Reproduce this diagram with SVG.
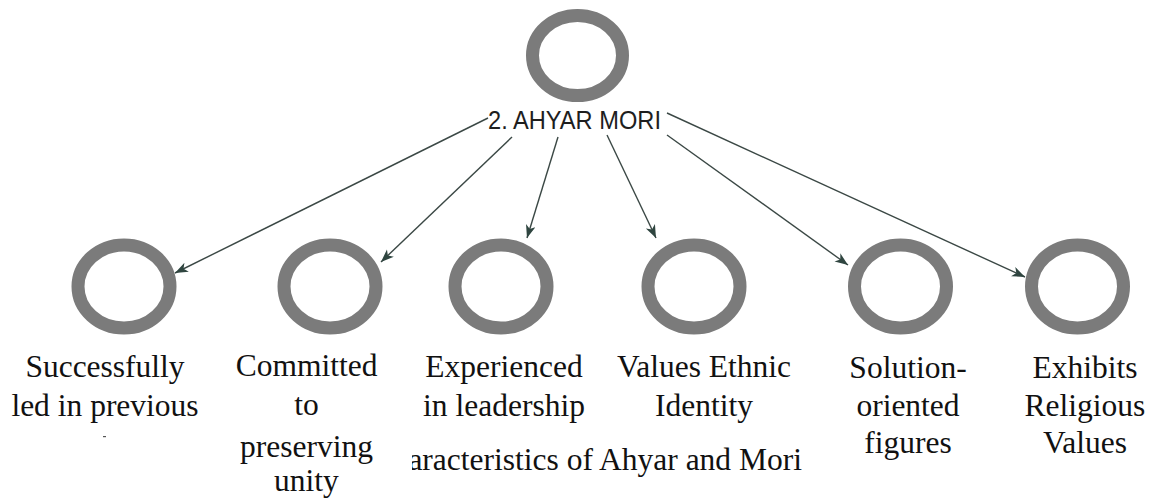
<svg xmlns="http://www.w3.org/2000/svg" width="1163" height="498" viewBox="0 0 1163 498">
  <style>
    .ring { fill: none; stroke: #7b7b7b; stroke-width: 13; }
    .edge { fill: none; stroke: #3b4845; stroke-width: 1.4; marker-end: url(#arrow); }
    .root-label { font-family: "Liberation Sans", Arial, sans-serif; font-size: 25px; fill: #1e1e1e; }
    .label { font-family: "Liberation Serif", "Times New Roman", serif; font-size: 31.5px; fill: #111; text-anchor: middle; }
  </style>
  <defs>
    <marker id="arrow" markerUnits="userSpaceOnUse" markerWidth="14" markerHeight="12" refX="13" refY="5" orient="auto">
      <path d="M0,0 L13,5 L0,10 L3.5,5 Z" fill="#2f4540"/>
    </marker>
    <clipPath id="captionClip">
      <rect x="412" y="430" width="420" height="60"/>
    </clipPath>
  </defs>

  <rect width="1163" height="498" fill="#ffffff"/>

  <!-- connectors from the root label to each trait -->
  <g id="connectors">
    <line class="edge" x1="488" y1="118" x2="175" y2="273"/>
    <line class="edge" x1="512" y1="137" x2="381" y2="262"/>
    <line class="edge" x1="558" y1="137" x2="527" y2="238"/>
    <line class="edge" x1="607" y1="135" x2="656" y2="238"/>
    <line class="edge" x1="667" y1="135" x2="848" y2="265"/>
    <line class="edge" x1="667" y1="113" x2="1025" y2="277"/>
  </g>

  <!-- root node -->
  <g id="node-root">
    <ellipse class="ring" cx="577.5" cy="55.5" rx="45" ry="40"/>
    <text class="root-label" x="488" y="129" textLength="173" lengthAdjust="spacingAndGlyphs">2. AHYAR MORI</text>
  </g>

  <!-- trait nodes -->
  <g id="node-successfully-led">
    <ellipse class="ring" cx="124" cy="286.5" rx="46" ry="41.5"/>
    <text class="label" x="105" y="377">Successfully</text>
    <text class="label" x="105" y="416">led in previous</text>
    <rect x="103" y="436" width="3" height="1.2" fill="#555"/>
  </g>

  <g id="node-committed-unity">
    <ellipse class="ring" cx="330" cy="286.5" rx="46" ry="41.5"/>
    <text class="label" x="306.5" y="376">Committed</text>
    <text class="label" x="306.5" y="415">to</text>
    <text class="label" x="306.5" y="457">preserving</text>
    <text class="label" x="306.5" y="491">unity</text>
  </g>

  <g id="node-experienced">
    <ellipse class="ring" cx="501" cy="286.5" rx="46" ry="41.5"/>
    <text class="label" x="504" y="377">Experienced</text>
    <text class="label" x="504" y="416">in leadership</text>
  </g>

  <g id="node-ethnic-identity">
    <ellipse class="ring" cx="694" cy="286.5" rx="46" ry="41.5"/>
    <text class="label" x="704" y="377">Values Ethnic</text>
    <text class="label" x="704" y="416">Identity</text>
  </g>

  <g id="node-solution-oriented">
    <ellipse class="ring" cx="900.5" cy="286.5" rx="46" ry="41.5"/>
    <text class="label" x="908" y="378">Solution-</text>
    <text class="label" x="908" y="416">oriented</text>
    <text class="label" x="908" y="453">figures</text>
  </g>

  <g id="node-religious-values">
    <ellipse class="ring" cx="1077.5" cy="286.5" rx="46" ry="41.5"/>
    <text class="label" x="1085" y="378">Exhibits</text>
    <text class="label" x="1085" y="416">Religious</text>
    <text class="label" x="1085" y="453">Values</text>
  </g>

  <!-- caption, cut off at its left end -->
  <g id="caption" clip-path="url(#captionClip)">
    <text class="label" x="802" y="470" style="text-anchor: end">aracteristics of Ahyar and Mori</text>
  </g>
</svg>
